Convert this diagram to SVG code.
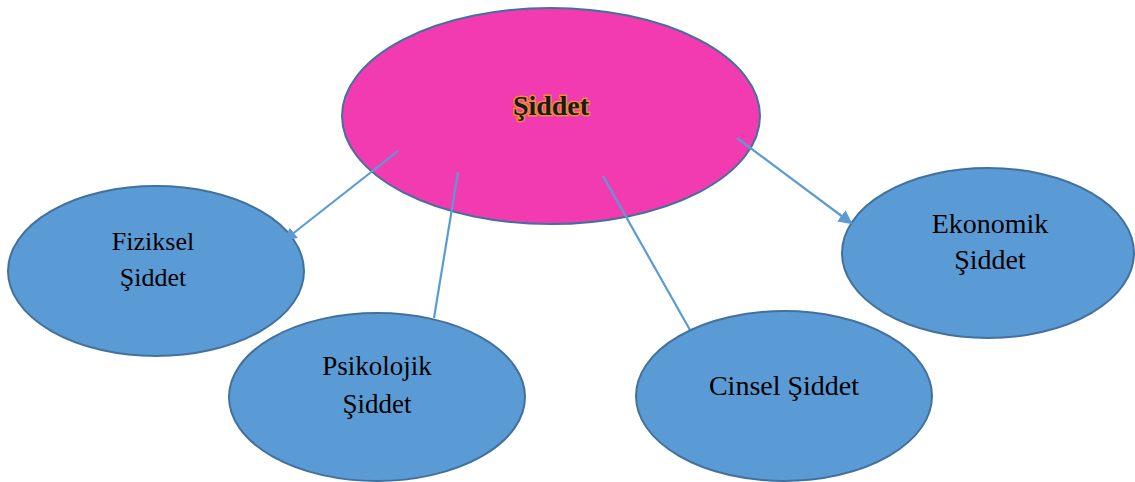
<svg xmlns="http://www.w3.org/2000/svg" width="1135" height="482" viewBox="0 0 1135 482">
<style>
.pink{fill:#f33bb1;stroke:#41719c;stroke-width:2}
.blue{fill:#5b9bd5;stroke:#41719c;stroke-width:2}
.lbl{font-family:"Liberation Serif",serif;font-size:26px;fill:#000;text-anchor:middle}
.title{font-family:"Liberation Serif",serif;font-size:28px;font-weight:bold;fill:#1a1a1a;stroke:#f08a3c;stroke-width:3;paint-order:stroke;text-anchor:middle}
.conn{stroke:#5b9bd5;stroke-width:2.2;fill:none}
</style>
<defs>
<marker id="ah" markerWidth="13" markerHeight="13" refX="10" refY="6.5" orient="auto" markerUnits="userSpaceOnUse" viewBox="0 0 13 13">
<path d="M0,0 L13,6.5 L0,13 z" fill="#5b9bd5"/>
</marker>
<marker id="ah2" markerWidth="14" markerHeight="14" refX="12" refY="7" orient="auto" markerUnits="userSpaceOnUse" viewBox="0 0 14 14">
<path d="M0,0 L14,7 L0,14 z" fill="#5b9bd5"/>
</marker>
</defs>
<g id="node-siddet">
<ellipse class="pink" cx="551" cy="116" rx="209" ry="108"/>
<text class="title" x="551" y="115">Şiddet</text>
</g>
<g id="node-fiziksel">
<ellipse class="blue" cx="156" cy="271" rx="148" ry="85"/>
<text class="lbl" x="153" y="250">Fiziksel</text>
<text class="lbl" x="153" y="286">Şiddet</text>
</g>
<g id="node-ekonomik">
<ellipse class="blue" cx="988" cy="253" rx="146" ry="85"/>
<text class="lbl" x="990" y="233" style="font-size:28px">Ekonomik</text>
<text class="lbl" x="990" y="269" style="font-size:28px">Şiddet</text>
</g>
<g id="connectors">
<line class="conn" x1="398" y1="151" x2="286" y2="239" marker-end="url(#ah)"/>
<line class="conn" x1="458" y1="172" x2="434" y2="318"/>
<line class="conn" x1="603" y1="176" x2="690" y2="330"/>
<line class="conn" x1="737" y1="138" x2="851" y2="223" marker-end="url(#ah2)"/>
</g>
<g id="node-psikolojik">
<ellipse class="blue" cx="377" cy="397" rx="148" ry="84"/>
<text class="lbl" x="377" y="375" style="font-size:27px">Psikolojik</text>
<text class="lbl" x="377" y="413" style="font-size:27px">Şiddet</text>
</g>
<g id="node-cinsel">
<ellipse class="blue" cx="784" cy="396" rx="148" ry="85"/>
<text class="lbl" x="784" y="395" style="font-size:28px">Cinsel Şiddet</text>
</g>
</svg>
